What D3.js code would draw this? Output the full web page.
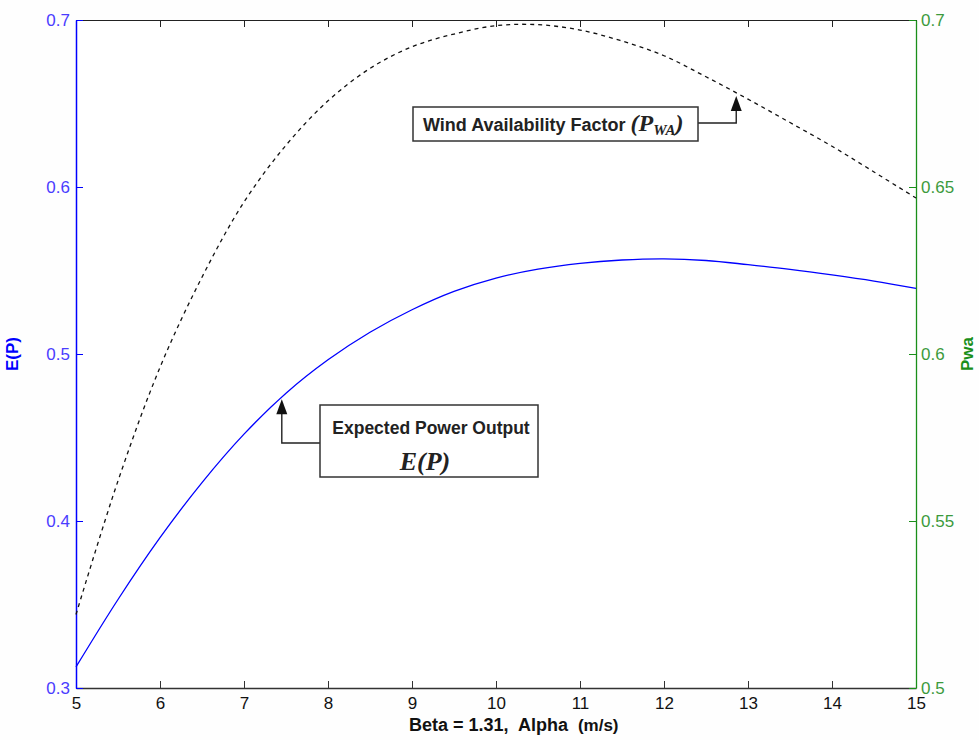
<!DOCTYPE html>
<html>
<head>
<meta charset="utf-8">
<script src="https://cdn.jsdelivr.net/npm/d3@7"></script>
<style>
  html, body { margin: 0; padding: 0; background: #fefefe; }
  svg { display: block; }
</style>
</head>
<body>
<svg id="chart" width="979" height="740"></svg>
<script>
// ---- data ----
const alpha = [5, 5.5, 6, 6.5, 7, 7.5, 8, 8.5, 9, 9.5, 10, 10.5, 11, 11.5, 12, 12.5, 13, 13.5, 14, 14.5, 15];
const expectedPower = [0.3126, 0.353, 0.390, 0.423, 0.452, 0.4765, 0.4965, 0.513, 0.5265, 0.5375, 0.5455, 0.5508, 0.5543, 0.5563, 0.557, 0.556, 0.5535, 0.5507, 0.5474, 0.5437, 0.5393];
const windAvail = [0.522, 0.562, 0.596, 0.623, 0.6455, 0.6625, 0.6758, 0.6855, 0.692, 0.6958, 0.6983, 0.6986, 0.697, 0.6937, 0.6893, 0.683, 0.6763, 0.6693, 0.6622, 0.6545, 0.6467];
const xTicks = [5, 6, 7, 8, 9, 10, 11, 12, 13, 14, 15];
const leftTicks = [0.3, 0.4, 0.5, 0.6, 0.7];
const rightTicks = [0.5, 0.55, 0.6, 0.65, 0.7];
const annoEPx = 7.45;   // alpha where the E(P) arrow points
const annoPwaX = 12.86; // alpha where the Pwa arrow points

// ---- layout ----
const L = 76, R = 916, T = 20, B = 688;
const BLUE = "#0000ff", GREEN = "#1a8f1a";
const SANS = "Liberation Sans, Arial, sans-serif";
const SERIF = "Liberation Serif, Times New Roman, serif";
const svg = d3.select("#chart");

const x = d3.scaleLinear().domain([5, 15]).range([L, R]);
const yL = d3.scaleLinear().domain([0.3, 0.7]).range([B, T]);
const yR = d3.scaleLinear().domain([0.5, 0.7]).range([B, T]);

svg.append("rect").attr("x", L).attr("y", T).attr("width", R - L).attr("height", B - T).attr("fill", "#ffffff");

// top axis (ticks only)
const gTop = svg.append("g").attr("transform", `translate(0,${T})`)
  .call(d3.axisTop(x).tickValues(xTicks).tickSizeInner(-7).tickSizeOuter(0).tickFormat(""));
gTop.select(".domain").attr("stroke", "#222").attr("stroke-width", 1.2);
gTop.selectAll(".tick line").attr("stroke", "#222");

// bottom axis
const gBot = svg.append("g").attr("transform", `translate(0,${B})`)
  .call(d3.axisBottom(x).tickValues(xTicks).tickSizeInner(-7).tickSizeOuter(0).tickPadding(9).tickFormat(d3.format("d")));
gBot.select(".domain").attr("stroke", "#333").attr("stroke-width", 1.3);
gBot.selectAll(".tick line").attr("stroke", "#333");
gBot.selectAll(".tick text").attr("font-size", 17).attr("fill", "#111").attr("font-family", SANS);

// left axis
const gLeft = svg.append("g").attr("transform", `translate(${L},0)`)
  .call(d3.axisLeft(yL).tickValues(leftTicks).tickSizeInner(-7).tickSizeOuter(0).tickPadding(6).tickFormat(d3.format(".1f")));
gLeft.select(".domain").attr("stroke", BLUE).attr("stroke-width", 1.5);
gLeft.selectAll(".tick line").attr("stroke", BLUE);
gLeft.selectAll(".tick text").attr("font-size", 17).attr("fill", "#4a3cff").attr("font-family", SANS);

// right axis
const gRight = svg.append("g").attr("transform", `translate(${R},0)`)
  .call(d3.axisRight(yR).tickValues(rightTicks).tickSizeInner(-7).tickSizeOuter(0).tickPadding(5).tickFormat(d => d3.format(".2~f")(d)));
gRight.select(".domain").attr("stroke", GREEN).attr("stroke-width", 1.3);
gRight.selectAll(".tick line").attr("stroke", GREEN);
gRight.selectAll(".tick text").attr("font-size", 17).attr("fill", "#3c9a3c").attr("font-family", SANS);

// curves
const lineEP = d3.line().x((d, i) => x(alpha[i])).y(d => yL(d)).curve(d3.curveCatmullRom);
const linePW = d3.line().x((d, i) => x(alpha[i])).y(d => yR(d)).curve(d3.curveCatmullRom);

svg.append("path").datum(windAvail).attr("d", linePW)
  .attr("fill", "none").attr("stroke", "#111").attr("stroke-width", 1.3).attr("stroke-dasharray", "4,4");
svg.append("path").datum(expectedPower).attr("d", lineEP)
  .attr("fill", "none").attr("stroke", BLUE).attr("stroke-width", 1.3);

// axis titles
svg.append("text").attr("transform", `translate(18,${(T + B) / 2}) rotate(-90)`)
  .attr("text-anchor", "middle").attr("font-family", SANS).attr("font-size", 17).attr("font-weight", "bold").attr("fill", BLUE).text("E(P)");
svg.append("text").attr("transform", `translate(973,${(T + B) / 2}) rotate(-90)`)
  .attr("text-anchor", "middle").attr("font-family", SANS).attr("font-size", 17).attr("font-weight", "bold").attr("fill", GREEN).text("Pwa");
const xl = svg.append("text").attr("x", 409).attr("y", 731).attr("font-family", SANS).attr("font-weight", "bold")
  .attr("fill", "#111").style("white-space", "pre");
xl.append("tspan").attr("font-size", 18).text("Beta = 1.31,  Alpha  ");
xl.append("tspan").attr("font-size", 17).text("(m/s)");

function valAt(arr, a) {
  const i = d3.bisectRight(alpha, a) - 1;
  const t = (a - alpha[i]) / (alpha[i + 1] - alpha[i]);
  return arr[i] + t * (arr[i + 1] - arr[i]);
}
function arrowHead(g, tx, ty) {
  g.append("path").attr("d", `M${tx},${ty} L${tx - 5.5},${ty + 15} L${tx + 5.5},${ty + 15} Z`).attr("fill", "#111");
}

// annotation: Wind Availability Factor
{
  const g = svg.append("g");
  const tx = x(annoPwaX), ty = yR(valAt(windAvail, annoPwaX)) + 3;
  g.append("path").attr("d", `M698,123 H${tx} V${ty + 12}`).attr("fill", "none").attr("stroke", "#222").attr("stroke-width", 1.4);
  arrowHead(g, tx, ty);
  g.append("rect").attr("x", 413).attr("y", 107).attr("width", 285).attr("height", 34)
    .attr("fill", "#fff").attr("stroke", "#333").attr("stroke-width", 1.5);
  const t = g.append("text").attr("x", 423).attr("y", 131).attr("font-family", SANS).attr("font-size", 18)
    .attr("font-weight", "bold").attr("fill", "#222").style("white-space", "pre");
  t.append("tspan").text("Wind Availability Factor ");
  t.append("tspan").attr("font-family", SERIF).attr("font-style", "italic").attr("font-size", 24).text("(P");
  t.append("tspan").attr("font-family", SERIF).attr("font-style", "italic").attr("font-size", 15).attr("dy", 4).text("WA");
  t.append("tspan").attr("font-family", SERIF).attr("font-style", "italic").attr("font-size", 24).attr("dy", -4).text(")");
}

// annotation: Expected Power Output
{
  const g = svg.append("g");
  const tx = x(annoEPx), ty = yL(valAt(expectedPower, annoEPx)) + 2;
  g.append("path").attr("d", `M320,443 H${tx} V${ty + 12}`).attr("fill", "none").attr("stroke", "#222").attr("stroke-width", 1.4);
  arrowHead(g, tx, ty);
  g.append("rect").attr("x", 320).attr("y", 405).attr("width", 218).attr("height", 72)
    .attr("fill", "#fff").attr("stroke", "#333").attr("stroke-width", 1.5);
  g.append("text").attr("x", 431).attr("y", 434).attr("text-anchor", "middle").attr("font-family", SANS).attr("font-size", 17.5)
    .attr("font-weight", "bold").attr("fill", "#222").text("Expected Power Output");
  g.append("text").attr("x", 425).attr("y", 470).attr("text-anchor", "middle").attr("font-family", SERIF).attr("font-size", 26)
    .attr("font-weight", "bold").attr("font-style", "italic").attr("fill", "#222").text("E(P)");
}
</script>
</body>
</html>
